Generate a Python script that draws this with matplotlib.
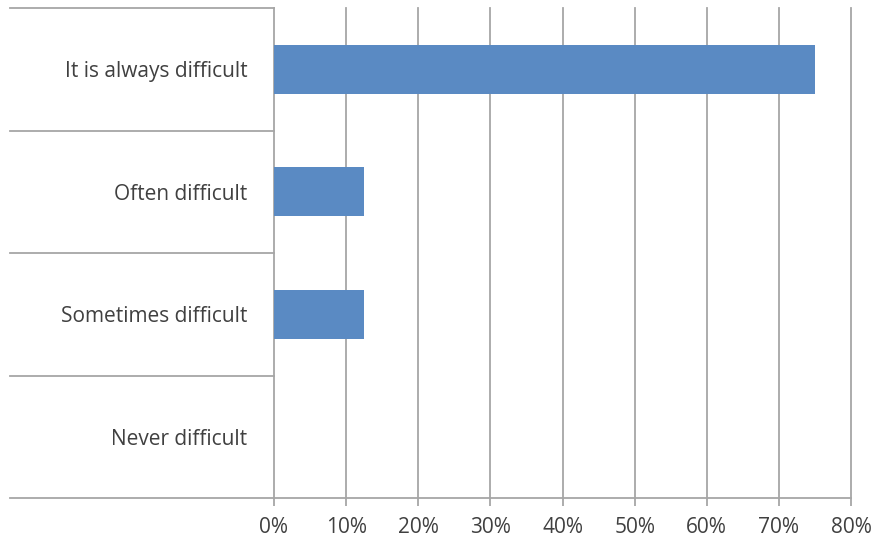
import matplotlib
matplotlib.use("Agg")
import matplotlib.pyplot as plt
from matplotlib.transforms import blended_transform_factory

categories = ["Never difficult", "Sometimes difficult", "Often difficult", "It is always difficult"]
values = [0, 12.5, 12.5, 75]
xticks = [0, 10, 20, 30, 40, 50, 60, 70, 80]
xtick_labels = ["0%", "10%", "20%", "30%", "40%", "50%", "60%", "70%", "80%"]

W, H = 880, 546
fig = plt.figure(figsize=(W / 100, H / 100), dpi=100)
left, right, top, bottom = 274, 851, 8, 498
ax = fig.add_axes([left / W, 1 - bottom / H, (right - left) / W, (bottom - top) / H])

grid_color = "#a6a6a6"
text_color = "#404040"
font = ["Open Sans", "DejaVu Sans"]

y = list(range(len(categories)))
ax.barh(y, values, height=0.4, color="#5a8ac3", linewidth=0, zorder=3)

ax.set_xlim(0, 80)
ax.set_ylim(-0.5, len(categories) - 0.5)

for s in ax.spines.values():
    s.set_visible(False)

# vertical gridlines (not clipped, so the 0% line is full width)
for t in xticks:
    ax.axvline(t, color=grid_color, linewidth=1.3, zorder=1, clip_on=False)

# category separators reaching into the label area
trans = blended_transform_factory(ax.transAxes, ax.transData)
x_left = (10 - left) / (right - left)
for i in range(len(categories) + 1):
    yy = i - 0.5
    x_end = 1.0 if i == 0 else 0.0
    ax.plot([x_left, x_end], [yy, yy], transform=trans, color=grid_color,
            linewidth=1.3, clip_on=False, zorder=2)

ax.set_xticks(xticks)
ax.set_xticklabels(xtick_labels, fontfamily=font, fontsize=15, color=text_color)
ax.tick_params(axis="x", length=6, width=1.3, color=grid_color, pad=8)

ax.set_yticks(y)
ax.set_yticklabels(categories, fontfamily=font, fontsize=15, color=text_color)
ax.tick_params(axis="y", length=0, pad=19)

fig.savefig("out.png", dpi=100)
